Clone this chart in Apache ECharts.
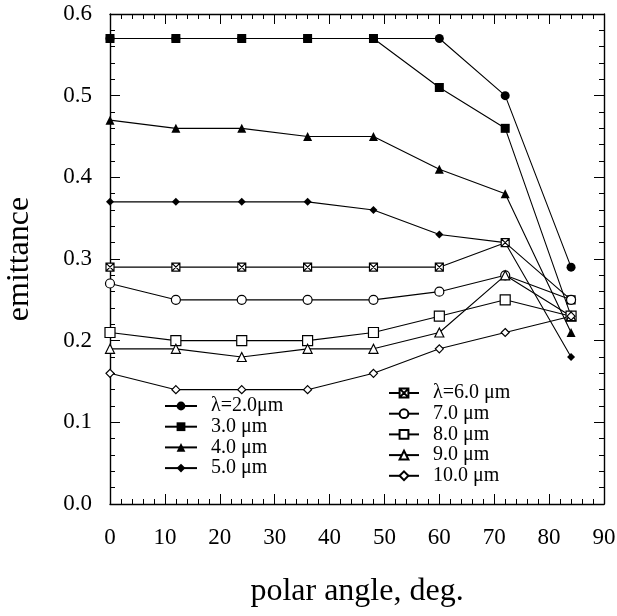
<!DOCTYPE html>
<html>
<head>
<meta charset="utf-8">
<script src="https://cdn.jsdelivr.net/npm/echarts@6/dist/echarts.min.js"></script>
<style>
  html, body { margin: 0; padding: 0; background: #fff; }
  #chart { width: 617px; height: 616px; }
</style>
</head>
<body>
<div id="chart"></div>
<script>
// polar angle (deg)
const angles = [0, 12, 24, 36, 48, 60, 72, 84]

// emittance per wavelength
const e2 = [0.57, 0.57, 0.57, 0.57, 0.57, 0.57, 0.50, 0.29]
const e3 = [0.57, 0.57, 0.57, 0.57, 0.57, 0.51, 0.46, 0.23]
const e4 = [0.47, 0.46, 0.46, 0.45, 0.45, 0.41, 0.38, 0.21]
const e5 = [0.37, 0.37, 0.37, 0.37, 0.36, 0.33, 0.32, 0.18]
const e6 = [0.29, 0.29, 0.29, 0.29, 0.29, 0.29, 0.32, 0.25]
const e7 = [0.27, 0.25, 0.25, 0.25, 0.25, 0.26, 0.28, 0.25]
const e8 = [0.21, 0.20, 0.20, 0.20, 0.21, 0.23, 0.25, 0.23]
const e9 = [0.19, 0.19, 0.18, 0.19, 0.19, 0.21, 0.28, 0.23]
const e10 = [0.16, 0.14, 0.14, 0.14, 0.16, 0.19, 0.21, 0.23]

const namesLeft = ['λ=2.0μm', '3.0 μm', '4.0 μm', '5.0 μm']
const namesRight = ['λ=6.0 μm', '7.0 μm', '8.0 μm', '9.0 μm', '10.0 μm']

const FONT = '"Liberation Serif", "DejaVu Serif", serif'
// square with an X inside
const crossSquare = 'path://M0,0L10,0L10,10L0,10Z M0,0L10,10 M10,0L0,10'

function pairs(vals) {
  return angles.map((a, i) => [a, vals[i]])
}

function mkSeries(name, vals, symbol, size, open) {
  return {
    name: name,
    type: 'line',
    data: pairs(vals),
    symbol: symbol,
    symbolSize: size,
    showAllSymbol: true,
    lineStyle: { color: '#000', width: 1.1 },
    itemStyle: open
      ? { color: '#fff', borderColor: '#000', borderWidth: 1.2 }
      : { color: '#000', borderColor: '#000', borderWidth: 0 },
    emphasis: { disabled: true },
    animation: false
  }
}

const chart = echarts.init(document.getElementById('chart'))

const axisLine = { show: true, onZero: false, lineStyle: { color: '#000', width: 1.4 } }
const tick = { show: true, inside: true, length: 10, lineStyle: { color: '#000' } }
const minor = { show: true, splitNumber: 5, length: 5, lineStyle: { color: '#000' } }

const legendText = { fontFamily: FONT, fontSize: 20, lineHeight: 16, color: '#000', padding: [0, 0, 0, 9] }

chart.setOption({
  backgroundColor: '#fff',
  grid: { left: 110, right: 13, top: 14, bottom: 112, outerBoundsMode: 'none' },
  legend: [{
    data: namesLeft,
    orient: 'vertical',
    left: 164,
    top: 396,
    padding: 0,
    itemWidth: 32,
    itemHeight: 11,
    itemGap: 0.7,
    textStyle: legendText,
    selectedMode: false
  }, {
    data: namesRight,
    orient: 'vertical',
    left: 388,
    top: 383,
    padding: 0,
    itemWidth: 30,
    itemHeight: 11,
    itemGap: 0.7,
    textStyle: legendText,
    selectedMode: false
  }],
  xAxis: [{
    type: 'value',
    min: 0,
    max: 90,
    interval: 10,
    name: 'polar angle, deg.',
    nameLocation: 'middle',
    nameGap: 72,
    nameTextStyle: { fontFamily: FONT, fontSize: 32, color: '#000' },
    axisLine: axisLine,
    axisTick: tick,
    minorTick: minor,
    splitLine: { show: false },
    axisLabel: { fontFamily: FONT, fontSize: 23, color: '#000', margin: 22 }
  }, {
    type: 'value',
    position: 'top',
    min: 0,
    max: 90,
    interval: 10,
    axisLine: axisLine,
    axisTick: tick,
    minorTick: minor,
    splitLine: { show: false },
    axisLabel: { show: false }
  }],
  yAxis: [{
    type: 'value',
    min: 0,
    max: 0.6,
    interval: 0.1,
    name: 'emittance',
    nameLocation: 'middle',
    nameGap: 74,
    nameRotate: 90,
    nameTextStyle: { fontFamily: FONT, fontSize: 32, color: '#000' },
    axisLine: axisLine,
    axisTick: tick,
    minorTick: minor,
    splitLine: { show: false },
    axisLabel: {
      fontFamily: FONT, fontSize: 23, color: '#000', margin: 18,
      formatter: v => v.toFixed(1)
    }
  }, {
    type: 'value',
    position: 'right',
    min: 0,
    max: 0.6,
    interval: 0.1,
    axisLine: axisLine,
    axisTick: tick,
    minorTick: minor,
    splitLine: { show: false },
    axisLabel: { show: false }
  }],
  series: [
    mkSeries(namesLeft[0], e2, 'circle', 9, false),
    mkSeries(namesLeft[1], e3, 'rect', 9, false),
    mkSeries(namesLeft[2], e4, 'triangle', 9, false),
    mkSeries(namesLeft[3], e5, 'diamond', 8, false),
    mkSeries(namesRight[0], e6, crossSquare, 8, true),
    mkSeries(namesRight[1], e7, 'circle', 9, true),
    mkSeries(namesRight[2], e8, 'rect', 10, true),
    mkSeries(namesRight[3], e9, 'triangle', 9, true),
    mkSeries(namesRight[4], e10, 'diamond', 8, true)
  ]
})
</script>
</body>
</html>
